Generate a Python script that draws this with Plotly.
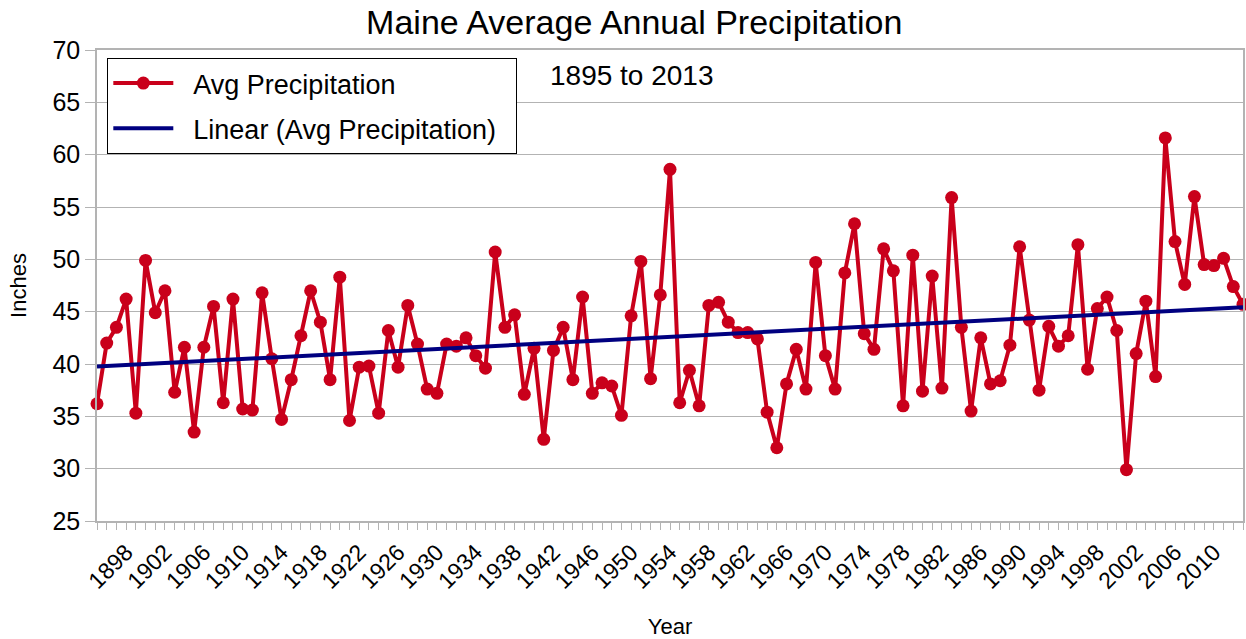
import numpy as np
import plotly.graph_objects as go

years = list(range(1895, 2014))
precip = [
    36.2, 42.0, 43.5, 46.2, 35.3, 49.9, 44.9, 47.0, 37.3, 41.6,
    33.5, 41.6, 45.5, 36.3, 46.2, 35.7, 35.6, 46.8, 40.5, 34.7,
    38.5, 42.7, 47.0, 44.0, 38.5, 48.3, 34.6, 39.7, 39.8, 35.3,
    43.2, 39.7, 45.6, 41.9, 37.6, 37.2, 41.9, 41.7, 42.5, 40.8,
    39.6, 50.7, 43.5, 44.7, 37.1, 41.5, 32.8, 41.3, 43.5, 38.5,
    46.4, 37.2, 38.2, 37.9, 35.1, 44.6, 49.8, 38.6, 46.6, 58.6,
    36.3, 39.4, 36.0, 45.6, 45.9, 44.0, 43.0, 43.0, 42.4, 35.4,
    32.0, 38.1, 41.4, 37.6, 49.7, 40.8, 37.6, 48.7, 53.4, 42.9,
    41.4, 51.0, 48.9, 36.0, 50.4, 37.4, 48.4, 37.7, 55.9, 43.5,
    35.5, 42.5, 38.1, 38.4, 41.8, 51.2, 44.2, 37.5, 43.6, 41.7,
    42.7, 51.4, 39.5, 45.3, 46.4, 43.2, 29.9, 41.0, 46.0, 38.8,
    61.6, 51.7, 47.6, 56.0, 49.5, 49.4, 50.1, 47.4, 45.7,
]
label_years = list(range(1898, 2014, 4))
y_ticks = list(range(25, 75, 5))

slope, intercept = np.polyfit(years, precip, 1)
trend = [slope * y + intercept for y in years]

FONT = "Liberation Sans, Arial, sans-serif"
RED = "#c9001b"
NAVY = "#000080"
GRID = "#b3b3b3"
PAD = "\u00a0\u00a0"

fig = go.Figure()
fig.add_trace(go.Scatter(
    x=years, y=precip, mode="lines+markers", name=PAD + "Avg Precipitation",
    line=dict(color=RED, width=4), marker=dict(color=RED, size=13),
    cliponaxis=False, legendgroup="a",
))
fig.add_trace(go.Scatter(
    x=years, y=trend, mode="lines", name=PAD + "Linear (Avg Precipitation)" + PAD,
    line=dict(color=NAVY, width=4), cliponaxis=False, legendgroup="b",
))

fig.update_layout(
    width=1246, height=639,
    margin=dict(l=97, r=3, t=50, b=118, autoexpand=False),
    paper_bgcolor="white", plot_bgcolor="white",
    font=dict(family=FONT, color="black", size=24),
    title=dict(text="Maine Average Annual Precipitation", x=0.509, xanchor="center",
               y=0.965, yanchor="middle", font=dict(size=34, family=FONT)),
    showlegend=True,
    legend=dict(x=0.009, y=0.983, xanchor="left", yanchor="top",
                bgcolor="white", bordercolor="black", borderwidth=1,
                font=dict(size=27, family=FONT), itemwidth=60,
                tracegroupgap=7),
    annotations=[dict(text="1895 to 2013", xref="paper", yref="paper",
                      x=0.467, y=0.945, xanchor="center", yanchor="middle",
                      showarrow=False, font=dict(size=28, family=FONT))],
)
fig.update_xaxes(
    range=[1895, 2013], tickmode="array", tickvals=years,
    ticktext=[str(y) if y in label_years else "" for y in years],
    tickangle=-45, ticks="outside", ticklen=7, tickcolor=GRID, tickwidth=1,
    showgrid=False, showline=True, linecolor=GRID, linewidth=1.5, mirror=True,
    tickfont=dict(size=23), zeroline=False, automargin=False,
    title=dict(text="Year", font=dict(size=22), standoff=26),
)
fig.update_yaxes(
    range=[25, 70], tickmode="array", tickvals=y_ticks,
    ticks="outside", ticklen=10, tickcolor=GRID, tickwidth=1,
    showgrid=True, gridcolor=GRID, gridwidth=1,
    showline=True, linecolor=GRID, linewidth=1.5, mirror=True,
    tickfont=dict(size=25), zeroline=False, automargin=False,
    title=dict(text="Inches", font=dict(size=22), standoff=20),
)

fig.write_html("out.html", config={"displayModeBar": False},
               post_script="document.body.style.margin='0px';")
